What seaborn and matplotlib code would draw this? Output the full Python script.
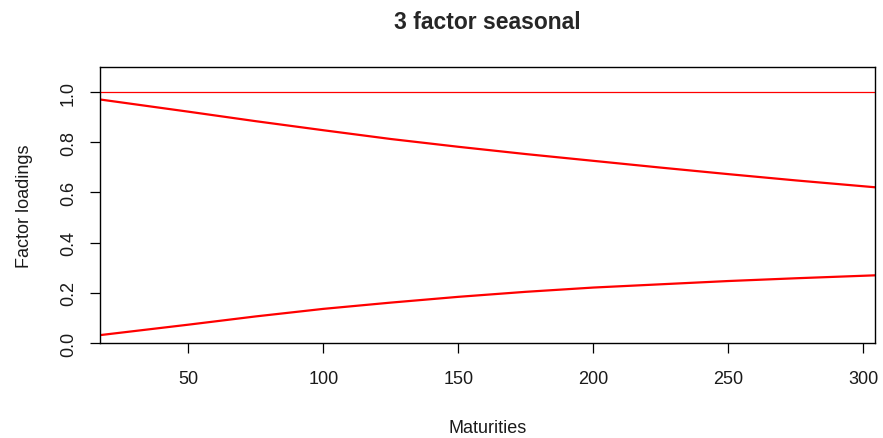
import numpy as np
import pandas as pd
import matplotlib
matplotlib.use("Agg")
import matplotlib.pyplot as plt
import seaborn as sns

# Data
maturities = [17, 50, 75, 100, 125, 150, 175, 200, 225, 250, 275, 305]
level = [1.0, 1.0, 1.0, 1.0, 1.0, 1.0, 1.0, 1.0, 1.0, 1.0, 1.0, 1.0]
slope = [0.971, 0.922, 0.884, 0.848, 0.813, 0.782, 0.753, 0.726, 0.699, 0.673, 0.648, 0.620]
curve = [0.031, 0.073, 0.106, 0.136, 0.161, 0.184, 0.204, 0.221, 0.234, 0.247, 0.258, 0.270]
xticks = [50, 100, 150, 200, 250, 300]
yticks = [0.0, 0.2, 0.4, 0.6, 0.8, 1.0]
ytick_labels = ["0.0", "0.2", "0.4", "0.6", "0.8", "1.0"]

sns.set_style("white")
plt.rcParams["font.family"] = ["Liberation Sans", "DejaVu Sans"]

df = pd.DataFrame({"Maturities": maturities, "level": level, "slope": slope, "curve": curve})

fig = plt.figure(figsize=(8.83, 4.39), dpi=100)
ax = fig.add_axes([100 / 883, (439 - 344) / 439, 775 / 883, 276 / 439])

sns.lineplot(data=df, x="Maturities", y="level", ax=ax, color="#FF0000", linewidth=0.9)
sns.lineplot(data=df, x="Maturities", y="slope", ax=ax, color="#FF0000", linewidth=1.6)
sns.lineplot(data=df, x="Maturities", y="curve", ax=ax, color="#FF0000", linewidth=1.6)

ax.set_xlim(17.3, 304.3)
ax.set_ylim(0.0, 1.1)
ax.set_xticks(xticks)
ax.set_xticklabels([str(t) for t in xticks])
ax.set_yticks(yticks)
ax.set_yticklabels(ytick_labels, rotation=90, va="center")

for s in ax.spines.values():
    s.set_visible(True)
    s.set_color("black")
    s.set_linewidth(1.0)

ax.tick_params(axis="both", which="major", direction="out", length=7.2, width=0.9,
               color="black", labelsize=13, labelcolor="#1a1a1a",
               bottom=True, left=True)
ax.tick_params(axis="x", pad=12.5)
ax.tick_params(axis="y", pad=9.5)

ax.set_xlabel("Maturities", fontsize=13, color="#1a1a1a", va="center")
ax.xaxis.set_label_coords(0.5, -0.305)
ax.set_ylabel("Factor loadings", fontsize=13, color="#1a1a1a", va="center")
ax.yaxis.set_label_coords(-0.098, 0.5)

ax.set_title("3 factor seasonal", fontsize=16.5, fontweight="bold", y=1.135, va="center")

fig.savefig("out.png", dpi=100)
